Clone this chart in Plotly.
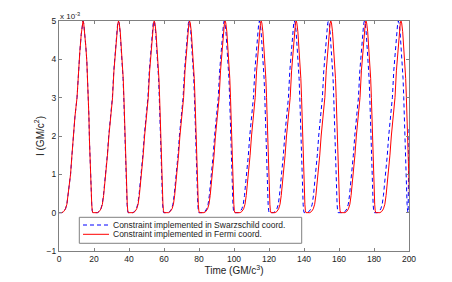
import plotly.graph_objects as go

# Pulse profile (time offset from peak, value in 1e-3 GM/c^2)
profile_offset = [-12.0, -11.0, -10.0, -9.2, -8.5, -7.8, -7.1, -6.3, -5.5, -4.6, -3.4, -2.6, -1.8,
                  -1.0, -0.4, 0.0, 0.4, 1.0, 1.6, 2.2, 2.7, 3.1, 3.4, 3.7, 4.0, 4.4, 4.7, 5.0, 5.3, 5.6]
profile_value = [0.0, 0.03, 0.1, 0.22, 0.45, 0.75, 1.0, 1.5, 2.0, 2.5, 3.0, 3.7, 4.2,
                 4.65, 4.93, 5.0, 4.95, 4.72, 4.35, 3.95, 3.5, 3.0, 2.5, 1.9, 1.4, 0.95, 0.55, 0.22, 0.05, 0.0]

# Peak times
peaks_swarz = [13.7, 33.9, 54.2, 74.3, 94.4, 114.5, 134.5, 153.9, 174.5, 193.9]
peaks_fermi = [13.7, 34.0, 54.4, 74.6, 94.9, 115.5, 135.5, 155.3, 175.4, 195.4]

# End points
swarz_end_t = [200.0]
swarz_end_v = [2.2]

x_ticks = [0, 20, 40, 60, 80, 100, 120, 140, 160, 180, 200]
y_ticks = [-1, 0, 1, 2, 3, 4, 5]

names = ["Constraint implemented in Swarzschild coord.",
         "Constraint implemented in Fermi coord."]
colors = ["#0000ff", "#ff0000"]
dashes = ["4px,3px", "solid"]

FONT = "Liberation Sans, Arial, sans-serif"


def build(peaks):
    t, v = [0.0], [0.0]
    for p in peaks:
        for o, val in zip(profile_offset, profile_value):
            t.append(round(p + o, 3))
            v.append(val)
    return t, v


ts, vs = build(peaks_swarz)
ts += swarz_end_t
vs += swarz_end_v
tf, vf = build(peaks_fermi)

fig = go.Figure()
fig.add_trace(go.Scatter(x=ts, y=vs, mode="lines", name=names[0], showlegend=False,
                         line=dict(color=colors[0], width=1, dash=dashes[0])))
fig.add_trace(go.Scatter(x=tf, y=vf, mode="lines", name=names[1], showlegend=False,
                         line=dict(color=colors[1], width=1, dash=dashes[1])))

axis_common = dict(showgrid=False, zeroline=False, showline=True, linecolor="#808080",
                   linewidth=1, mirror="ticks", ticks="inside", ticklen=3, tickcolor="#808080",
                   automargin=False,
                   tickfont=dict(family=FONT, size=8.5, color="#222"))

# Legend drawn as a boxed key (MATLAB style, compact rows)
leg_x0, leg_x1, leg_y0, leg_y1 = 0.058, 0.6934, 0.0335, 0.1465
row_y = [0.113, 0.0726]
samp_x0, samp_x1, text_x = 0.0686, 0.1429, 0.1486

shapes = [dict(type="rect", xref="paper", yref="paper", x0=leg_x0, x1=leg_x1, y0=leg_y0, y1=leg_y1,
               line=dict(color="#808080", width=1), fillcolor="white", layer="above")]
annotations = []
for i in range(2):
    shapes.append(dict(type="line", xref="paper", yref="paper", x0=samp_x0, x1=samp_x1,
                       y0=row_y[i], y1=row_y[i], layer="above",
                       line=dict(color=colors[i], width=1, dash=dashes[i])))
    annotations.append(dict(text=names[i], x=text_x, y=row_y[i], xref="paper", yref="paper",
                            xanchor="left", yanchor="middle", showarrow=False,
                            font=dict(family=FONT, size=8.5, color="#222")))

annotations.append(dict(text="x 10<sup>-3</sup>", x=0, y=1, xref="paper", yref="paper",
                        xanchor="left", yanchor="bottom", showarrow=False, xshift=-1, yshift=-2,
                        font=dict(family=FONT, size=8, color="#222")))

fig.update_layout(
    width=452, height=282,
    margin=dict(l=59, r=43, t=21, b=31),
    paper_bgcolor="white", plot_bgcolor="white",
    showlegend=False,
    xaxis=dict(range=[0, 200], tickvals=x_ticks,
               title=dict(text="Time (GM/c<sup>3</sup>)", standoff=1,
                          font=dict(family=FONT, size=10, color="#222")),
               **axis_common),
    yaxis=dict(range=[-1, 5], tickvals=y_ticks,
               title=dict(text="I (GM/c<sup>2</sup>)", standoff=0,
                          font=dict(family=FONT, size=10, color="#222")),
               **axis_common),
    shapes=shapes,
    annotations=annotations,
)

fig.write_html("out.html", config={"displayModeBar": False},
               post_script="document.body.style.margin='0';document.body.style.overflow='hidden';")
